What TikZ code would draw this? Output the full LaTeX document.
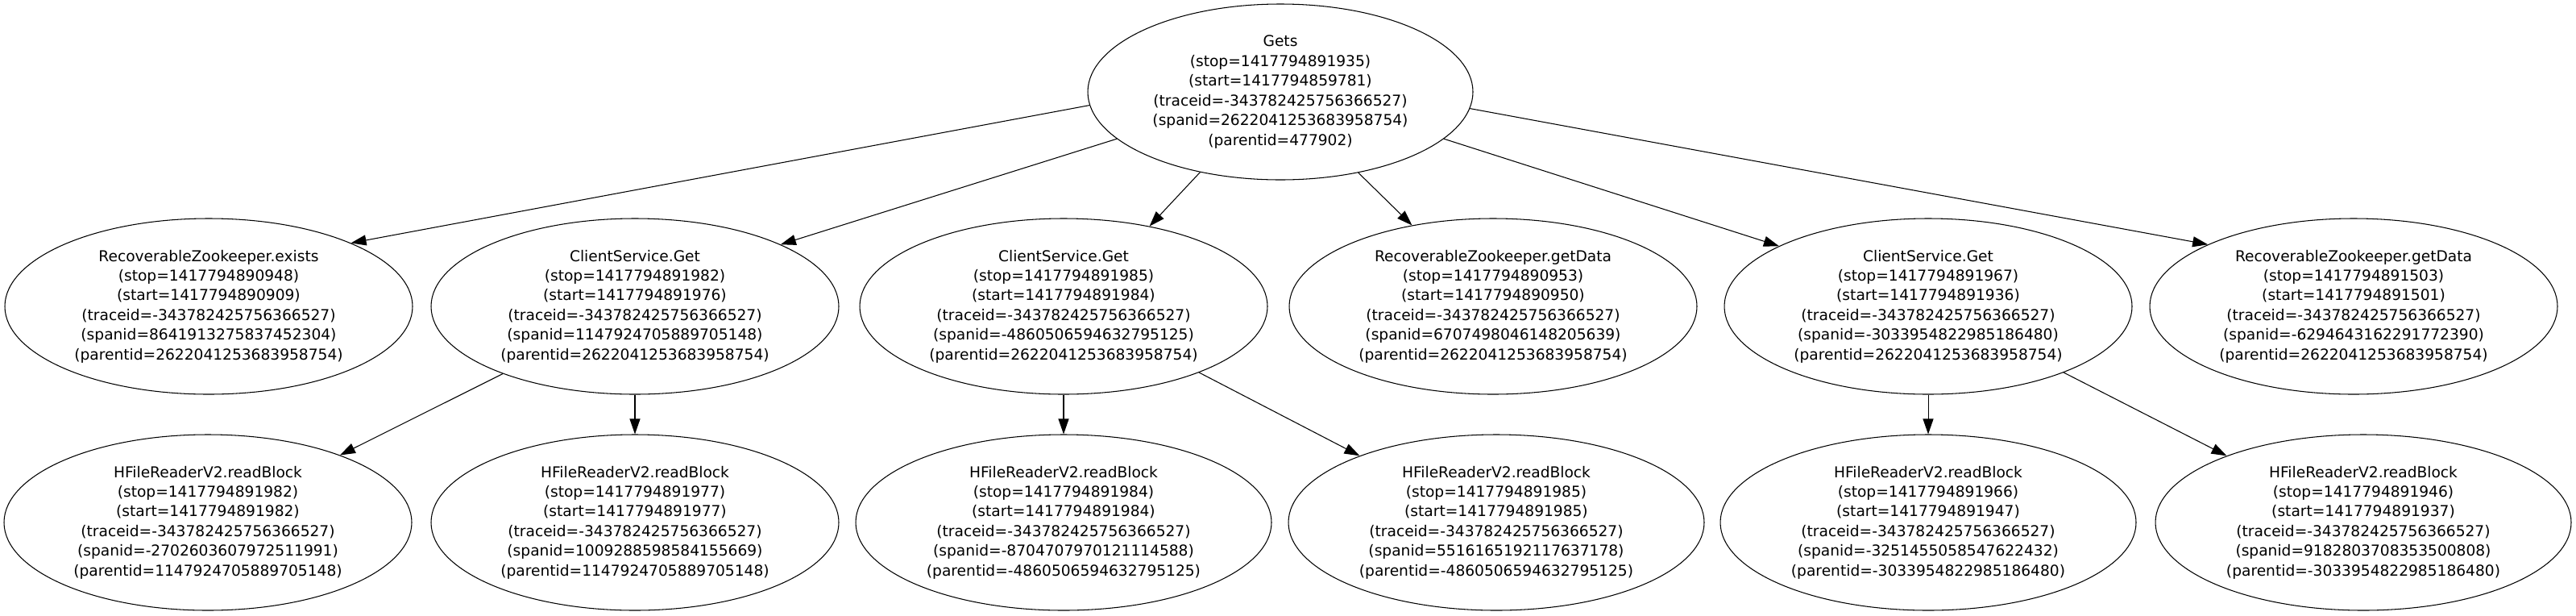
\documentclass[tikz,border=0pt]{standalone}
\usepackage{fontspec}
\setmainfont{DejaVu Sans}
\usepackage{tikz}
\usetikzlibrary{shapes.geometric, arrows.meta, positioning}
\tikzset{
	spannode/.style ={ellipse, draw=black, line width=0.6pt, minimum width=10.12cm, minimum height=4.36cm, inner sep=0pt, align=center},
	widenode/.style ={spannode, minimum width=10.32cm},
	rootnode/.style ={spannode, minimum width=9.56cm},
	callarrow/.style={-{Triangle[length=0.38cm, width=0.26cm]}, line width=0.6pt},
}

\begin{document}
\begin{tikzpicture}[font=\fontsize{10.6}{13.9}\selectfont]
	\useasboundingbox (0,0) rectangle (63.94,-15.26);
	% root span
	\node[rootnode] (gets) at (31.78,-2.28) {Gets\\(stop=1417794891935)\\(start=1417794859781)\\(traceid=-343782425756366527)\\(spanid=2622041253683958754)\\(parentid=477902)};
	% first level
	\node[spannode] (rzexists) at (5.18,-7.60) {RecoverableZookeeper.exists\\(stop=1417794890948)\\(start=1417794890909)\\(traceid=-343782425756366527)\\(spanid=8641913275837452304)\\(parentid=2622041253683958754)};
	\node[spannode] (csgetA) at (15.76,-7.60) {ClientService.Get\\(stop=1417794891982)\\(start=1417794891976)\\(traceid=-343782425756366527)\\(spanid=1147924705889705148)\\(parentid=2622041253683958754)};
	\node[spannode] (csgetB) at (26.40,-7.60) {ClientService.Get\\(stop=1417794891985)\\(start=1417794891984)\\(traceid=-343782425756366527)\\(spanid=-4860506594632795125)\\(parentid=2622041253683958754)};
	\node[spannode] (rzdataA) at (37.06,-7.60) {RecoverableZookeeper.getData\\(stop=1417794890953)\\(start=1417794890950)\\(traceid=-343782425756366527)\\(spanid=6707498046148205639)\\(parentid=2622041253683958754)};
	\node[spannode] (csgetC) at (47.86,-7.60) {ClientService.Get\\(stop=1417794891967)\\(start=1417794891936)\\(traceid=-343782425756366527)\\(spanid=-3033954822985186480)\\(parentid=2622041253683958754)};
	\node[spannode] (rzdataB) at (58.42,-7.60) {RecoverableZookeeper.getData\\(stop=1417794891503)\\(start=1417794891501)\\(traceid=-343782425756366527)\\(spanid=-6294643162291772390)\\(parentid=2622041253683958754)};
	% second level
	\node[spannode] (readA) at (5.16,-12.96) {HFileReaderV2.readBlock\\(stop=1417794891982)\\(start=1417794891982)\\(traceid=-343782425756366527)\\(spanid=-2702603607972511991)\\(parentid=1147924705889705148)};
	\node[spannode] (readB) at (15.76,-12.96) {HFileReaderV2.readBlock\\(stop=1417794891977)\\(start=1417794891977)\\(traceid=-343782425756366527)\\(spanid=1009288598584155669)\\(parentid=1147924705889705148)};
	\node[widenode] (readC) at (26.40,-12.96) {HFileReaderV2.readBlock\\(stop=1417794891984)\\(start=1417794891984)\\(traceid=-343782425756366527)\\(spanid=-8704707970121114588)\\(parentid=-4860506594632795125)};
	\node[widenode] (readD) at (37.14,-12.96) {HFileReaderV2.readBlock\\(stop=1417794891985)\\(start=1417794891985)\\(traceid=-343782425756366527)\\(spanid=5516165192117637178)\\(parentid=-4860506594632795125)};
	\node[widenode] (readE) at (47.86,-12.96) {HFileReaderV2.readBlock\\(stop=1417794891966)\\(start=1417794891947)\\(traceid=-343782425756366527)\\(spanid=-3251455058547622432)\\(parentid=-3033954822985186480)};
	\node[widenode] (readF) at (58.66,-12.96) {HFileReaderV2.readBlock\\(stop=1417794891946)\\(start=1417794891937)\\(traceid=-343782425756366527)\\(spanid=9182803708353500808)\\(parentid=-3033954822985186480)};
	% calls
	\draw[callarrow] (gets.184) -- (rzexists.24);
	\draw[callarrow] (gets.196) -- (csgetA.23);
	\draw[callarrow] (gets.225) -- (csgetB.43);
	\draw[callarrow] (gets.314) -- (rzdataA.135);
	\draw[callarrow] (gets.344) -- (csgetC.158);
	\draw[callarrow] (gets.355) -- (rzdataB.157);
	\draw[callarrow] (csgetA.207) -- (readA.27);
	\draw[callarrow] (csgetA.south) -- (readB.north);
	\draw[callarrow] (csgetB.south) -- (readC.north);
	\draw[callarrow] (csgetB.334) -- (readD.154);
	\draw[callarrow] (csgetC.south) -- (readE.north);
	\draw[callarrow] (csgetC.334) -- (readF.154);
\end{tikzpicture}
\end{document}
